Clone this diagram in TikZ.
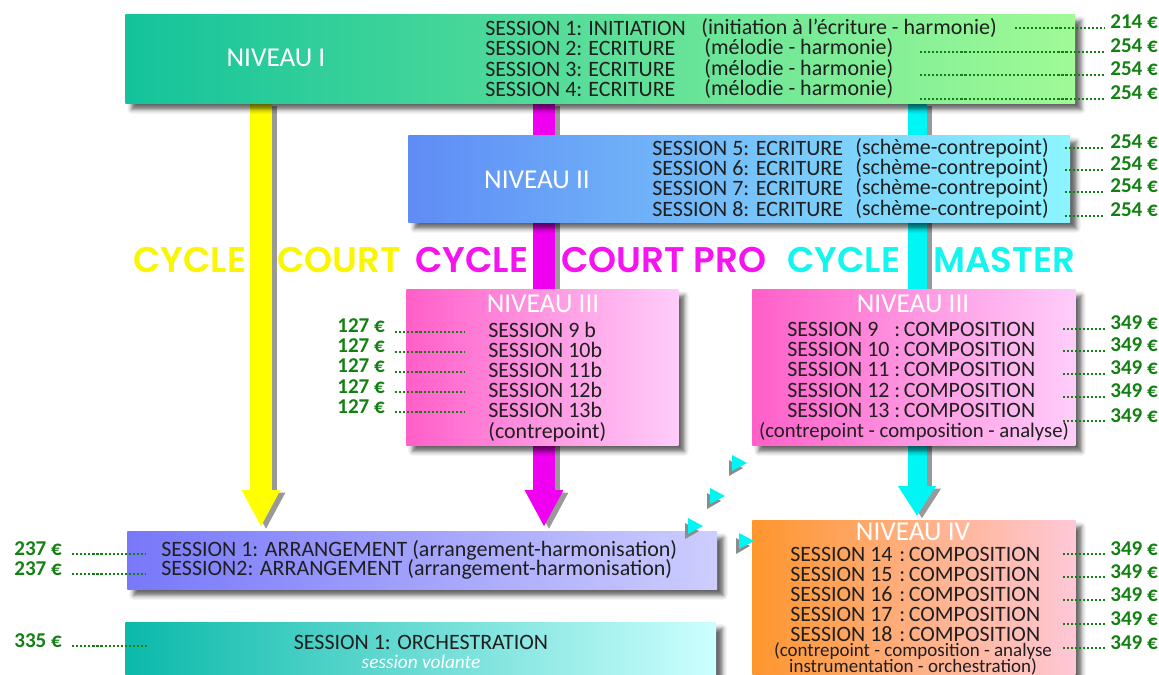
\documentclass[tikz,border=0pt]{standalone}
\usepackage{fontspec}
\setmainfont{Carlito}
\newfontfamily\cyclefont{Poppins SemiBold}
\usetikzlibrary{arrows.meta,shadows.blur,backgrounds}

\definecolor{prixvert}{RGB}{18,128,18}
\definecolor{v1g}{RGB}{20,195,155}
\definecolor{v1d}{RGB}{160,250,150}
\definecolor{b2g}{RGB}{95,140,245}
\definecolor{b2d}{RGB}{140,245,255}
\definecolor{r3g}{RGB}{255,95,200}
\definecolor{r3d}{RGB}{255,205,250}
\definecolor{a5g}{RGB}{120,120,250}
\definecolor{a5d}{RGB}{205,205,255}
\definecolor{o4g}{RGB}{255,150,45}
\definecolor{o4d}{RGB}{255,200,215}
\definecolor{c6g}{RGB}{10,185,170}
\definecolor{c6d}{RGB}{205,255,255}
\definecolor{cjaune}{RGB}{250,245,0}
\definecolor{cmag}{RGB}{245,20,240}
\definecolor{ccyan}{RGB}{20,245,240}
\definecolor{fjaune}{RGB}{255,255,0}
\definecolor{fmag}{RGB}{240,0,240}
\definecolor{fcyan}{RGB}{0,245,245}

\tikzset{
  boite/.style={anchor=north west, inner sep=0pt,
    blur shadow={shadow xshift=3.5pt, shadow yshift=-3.5pt, shadow blur radius=2.5pt, shadow opacity=60}},
  niv/.style={text=white, inner sep=0pt, font=\fontsize{15.5}{18}\selectfont},
  sess/.style={anchor=west, inner sep=0pt, text=black!88, font=\fontsize{12.5}{14}\selectfont},
  petit/.style={sess, anchor=center, font=\fontsize{10.8}{12}\selectfont},
  prix/.style={anchor=base west, inner sep=0pt, text=prixvert, font=\bfseries\fontsize{12}{14}\selectfont},
  pointille/.style={draw=prixvert, line width=1.2pt, dash pattern=on 1.2pt off 1.1pt},
  cyc/.style={anchor=west, inner sep=0pt, font=\cyclefont\fontsize{20.3}{22}\selectfont},
  flow/.style={draw=#1, line width=0.44cm, -{Triangle[width=0.72cm,length=0.74cm]}, shorten >=0.08cm},
  flowc/.style={draw=#1, line width=0.38cm, -{Triangle[width=0.72cm,length=0.6cm]}, shorten >=0.08cm},
}

\begin{document}
\begin{tikzpicture}[x=0.02cm,y=-0.02cm]
\useasboundingbox (0,0) rectangle (1159,675);

% boites
\node[boite, minimum width=19cm, minimum height=1.78cm, left color=v1g, right color=v1d] (niv1) at (125,14) {};
\node[boite, minimum width=13.24cm, minimum height=1.74cm, left color=b2g, right color=b2d] (niv2) at (408,135) {};
\node[boite, minimum width=5.44cm, minimum height=3.12cm, left color=r3g, right color=r3d] (niv3a) at (406,289) {};
\node[boite, minimum width=6.46cm, minimum height=3.12cm, left color=r3g, right color=r3d] (niv3b) at (752,289) {};
\node[boite, minimum width=11.8cm, minimum height=1.16cm, left color=a5g, right color=a5d] (arr) at (127,531) {};
\node[boite, minimum width=6.46cm, minimum height=3.4cm, left color=o4g, right color=o4d] (niv4) at (752,520) {};
\node[boite, minimum width=11.82cm, minimum height=1.4cm, left color=c6g, right color=c6d] (orch) at (125,622) {};

% fleches des cycles
\coordinate (xj) at (261,0);
\coordinate (xm) at (544,0);
\coordinate (xc) at (917,0);
\begin{scope}[on background layer]
\begin{scope}[transform canvas={xshift=0.1cm,yshift=-0.05cm}]
\draw[flow=black!40] (niv1.south -| xj) -- (arr.north -| xj);
\draw[flow=black!40] (niv1.south -| xm) -- (arr.north -| xm);
\draw[flowc=black!40] (niv1.south -| xc) -- (niv4.north -| xc);
\end{scope}
\draw[flow=fjaune] (niv1.south -| xj) -- (arr.north -| xj);
\draw[flow=fmag] (niv1.south -| xm) -- (arr.north -| xm);
\draw[flowc=fcyan] (niv1.south -| xc) -- (niv4.north -| xc);
\end{scope}

% titres des niveaux
\node[niv] (t1) at (276,58) {NIVEAU I};
\node[niv] (t2) at (537,180) {NIVEAU II};
\node[niv] (t3a) at (543,304) {NIVEAU III};
\node[niv] (t3b) at (913,304) {NIVEAU III};
\node[niv] (t4) at (913,532) {NIVEAU IV};

% niveau I
\node[sess] (sa1) at (485,28) {SESSION 1:};
\node[sess] (sb1) at (588,28) {INITIATION};
\node[sess] (sc1) at (701,28) {(initiation à l'écriture - harmonie)};
\foreach \n/\y in {2/48,3/69,4/89}{
  \node[sess] (sa\n) at (485,\y) {SESSION \n:};
  \node[sess] (sb\n) at (588,\y) {ECRITURE};
  \node[sess] (sc\n) at (704,\y) {(mélodie - harmonie)};
}

% niveau II
\foreach \n/\y in {5/148,6/168,7/188,8/209}{
  \node[sess] (sa\n) at (652,\y) {SESSION \n: ECRITURE};
  \node[sess] (sc\n) at (855,\y) {(schème-contrepoint)};
}

% niveau III court pro
\foreach \n/\t/\y in {9/9 b/330,10/10b/350,11/11b/370,12/12b/390,13/13b/410}
  \node[sess] (sb\n) at (488,\y) {SESSION \t};
\node[sess] (cp3a) at (488,432) {(contrepoint)};

% niveau III master
\foreach \n/\y in {9/329,10/349,11/369,12/390,13/410}{
  \node[sess] (sd\n) at (787,\y) {SESSION \n};
  \node[sess] (se\n) at (894,\y) {:\,COMPOSITION};
}
\node[petit, font=\fontsize{11.8}{13}\selectfont] (cp3b) at (914,432) {(contrepoint - composition - analyse)};

% niveau IV
\foreach \n/\y in {14/554,15/574,16/594,17/614,18/634}{
  \node[sess] (sf\n) at (790,\y) {SESSION \n};
  \node[sess] (sg\n) at (899,\y) {:\,COMPOSITION};
}
\node[petit] (cp4a) at (913,651) {(contrepoint - composition - analyse};
\node[petit] (cp4b) at (913,667) {instrumentation - orchestration)};

% arrangement et orchestration
\node[sess] (ar1) at (161,550) {SESSION 1: ARRANGEMENT (arrangement-harmonisation)};
\node[sess] (ar2) at (161,569) {SESSION2: ARRANGEMENT (arrangement-harmonisation)};
\node[sess, anchor=center] (or1) at (421,642) {SESSION 1: ORCHESTRATION};
\node[sess, anchor=center, text=white, font=\itshape\fontsize{11}{13}\selectfont] (or2) at (421,662) {session volante};

% cycles
\foreach \x/\t/\c/\nm in {133/CYCLE/cjaune/ca,277/COURT/cjaune/cb,415/CYCLE/cmag/cc,
    561/COURT PRO/cmag/cd,787/CYCLE/ccyan/ce,933/MASTER/ccyan/cf}
  \node[cyc, text=\c] (\nm) at (\x,260) {\t};

% petites fleches
\foreach \x/\y in {739/463,717/496,695/526,746/541}{
  \fill[black!45] (\x-10,\y-3) -- (\x+4,\y+5) -- (\x-10,\y+13) -- cycle;
  \fill[fcyan] (\x-7,\y-8) -- (\x+8,\y) -- (\x-7,\y+8) -- cycle;
}

% prix
\node[prix] (p1) at (1110,29) {214 €};
\coordinate (d1) at (1015,28);
\draw[pointille, shorten >=0.1cm] (d1) -- (d1 -| p1.west);
\foreach \n/\y in {2/53,3/76,4/100}{
  \node[prix] (p\n) at (1110,\y) {254 €};
  \coordinate (d\n) at (920,\y-1);
  \draw[pointille, shorten >=0.1cm] (d\n) -- (d\n -| p\n.west);
}
\foreach \n/\y in {5/149,6/171,7/193,8/217}{
  \node[prix] (p\n) at (1110,\y) {254 €};
  \coordinate (d\n) at (1065,\y-1);
  \draw[pointille, shorten >=0.1cm] (d\n) -- (d\n -| p\n.west);
}
\foreach \n/\y in {9/330,10/352,11/375,12/398,13/422}{
  \node[prix] (q\n) at (1110,\y) {349 €};
  \coordinate (e\n) at (1063,\y-1);
  \draw[pointille, shorten >=0.1cm] (e\n) -- (e\n -| q\n.west);
}
\foreach \n/\y in {14/555,15/578,16/601,17/625,18/649}{
  \node[prix] (q\n) at (1110,\y) {349 €};
  \coordinate (e\n) at (1063,\y-1);
  \draw[pointille, shorten >=0.1cm] (e\n) -- (e\n -| q\n.west);
}
\foreach \n/\y in {9/333,10/353,11/373,12/393,13/413}{
  \node[prix] (r\n) at (337,\y) {127 €};
  \coordinate (f\n) at (465,\y-1);
  \draw[pointille, shorten <=0.2cm] (f\n -| r\n.east) -- (f\n);
}
\foreach \n/\y in {1/555,2/575}{
  \node[prix] (s\n) at (14,\y) {237 €};
  \coordinate (g\n) at (145,\y-1);
  \draw[pointille, shorten <=0.2cm] (g\n -| s\n.east) -- (g\n);
}
\node[prix] (s3) at (14,647) {335 €};
\coordinate (g3) at (147,646);
\draw[pointille, shorten <=0.2cm] (g3 -| s3.east) -- (g3);
\end{tikzpicture}
\end{document}
